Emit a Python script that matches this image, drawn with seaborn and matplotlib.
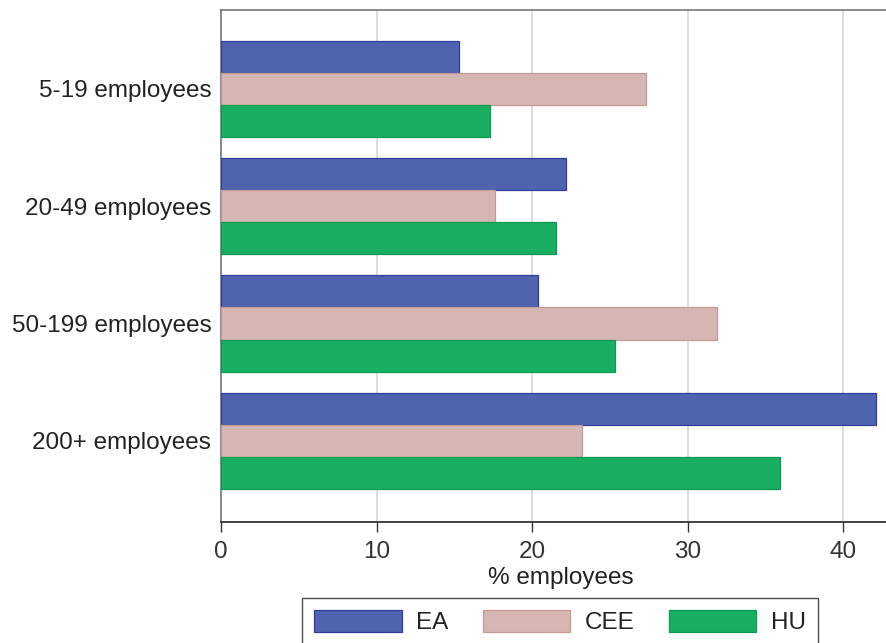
import numpy as np
import pandas as pd
import matplotlib.pyplot as plt
import seaborn as sns

# data
sizes = ["5-19 employees", "20-49 employees", "50-199 employees", "200+ employees"]
groups = ["EA", "CEE", "HU"]
ea = [15.3, 22.2, 20.4, 42.1]
cee = [27.3, 17.6, 31.9, 23.2]
hu = [17.3, 21.5, 25.3, 35.9]

fills = ["#4F63AE", "#D6B6B3", "#18AF62"]
edges = ["#2E3D9E", "#C49A97", "#0C9A50"]

df = pd.DataFrame({
    "size": sizes * 3,
    "group": np.repeat(groups, len(sizes)),
    "value": ea + cee + hu,
})

sns.set_style("white")
plt.rcParams["font.family"] = ["Liberation Sans", "DejaVu Sans"]
plt.rcParams["text.color"] = "#222222"
plt.rcParams["xtick.color"] = "#333333"
plt.rcParams["ytick.color"] = "#222222"
plt.rcParams["axes.labelcolor"] = "#222222"

fs = 17.5

fig = plt.figure(figsize=(8.86, 6.43), dpi=100)
ax = fig.add_axes([221 / 886, 1 - 522 / 643, (901 - 221) / 886, (522 - 10) / 643])

sns.barplot(data=df, y="size", x="value", hue="group", order=sizes,
            hue_order=groups, palette=fills, saturation=1, orient="h", width=0.82,
            gap=0, ax=ax, legend=False, zorder=3)

for cont, ec in zip(ax.containers, edges):
    for bar in cont:
        bar.set_edgecolor(ec)
        bar.set_linewidth(0.9)

ax.set_xlim(0, 43.7)
ax.set_ylim(3.69, -0.67)
ax.set_xticks([0, 10, 20, 30, 40])
ax.grid(axis="x", color="#DDDDDD", linewidth=1.4, zorder=0)
ax.set_axisbelow(True)

ax.set_ylabel("")
ax.set_xlabel("% employees", fontsize=fs, labelpad=3)
ax.tick_params(axis="x", labelsize=fs, length=7, width=1, direction="out",
               pad=6.5, bottom=True)
ax.tick_params(axis="y", labelsize=fs, length=0, pad=7)

for side in ["top", "left", "right"]:
    ax.spines[side].set_color("#777777")
    ax.spines[side].set_linewidth(1.2)
ax.spines["bottom"].set_color("#333333")
ax.spines["bottom"].set_linewidth(1.3)

handles = [plt.Rectangle((0, 0), 1, 1, facecolor=f, edgecolor=e, linewidth=0.9)
           for f, e in zip(fills, edges)]
leg = fig.legend(handles, groups, loc="upper center", bbox_to_anchor=(0.632, 1 - 598 / 643),
                 ncol=3, fontsize=fs, frameon=True, fancybox=False,
                 handlelength=3.6, handleheight=1.0, handletextpad=0.6,
                 columnspacing=1.4, borderpad=0.5, borderaxespad=0)
leg.get_frame().set_edgecolor("#222222")
leg.get_frame().set_linewidth(1.0)

fig.savefig("out.png", dpi=100)
